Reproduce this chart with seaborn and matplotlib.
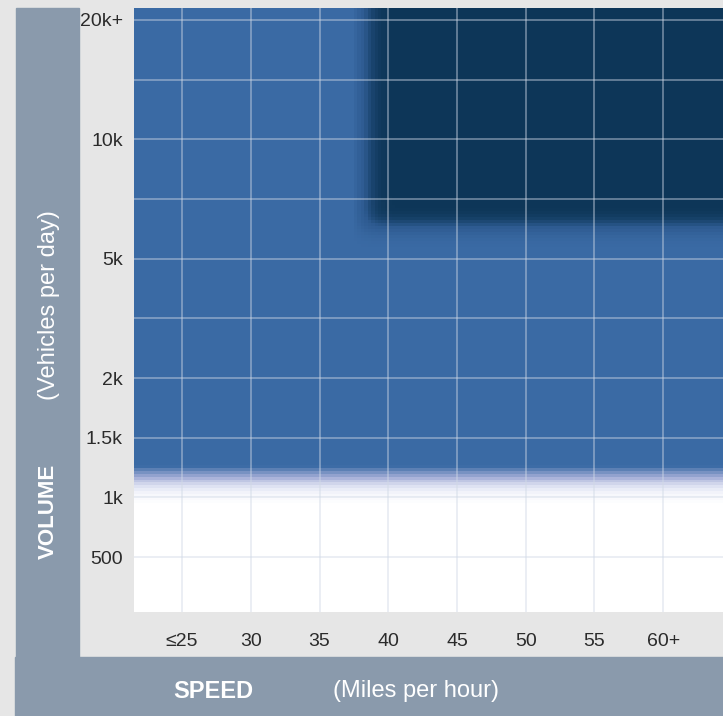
import numpy as np
import matplotlib
matplotlib.use('Agg')
import matplotlib.pyplot as plt
from matplotlib.colors import LinearSegmentedColormap
from matplotlib.patches import Rectangle
import seaborn as sns

# Categories
speed_labels = ['≤25', '30', '35', '40', '45', '50', '55', '60+']
volume_labels = ['500', '1k', '1.5k', '2k', '', '5k', '', '10k', '', '20k+']

# Zone level per (volume row, speed column); rows from low to high volume
# 0 = no treatment, 1 = blue zone, 2 = dark zone
zone_rows = [
    [0, 0, 0, 0, 0, 0, 0, 0],  # 500
    [0, 0, 0, 0, 0, 0, 0, 0],  # 1k
    [1, 1, 1, 1, 1, 1, 1, 1],  # 1.5k
    [1, 1, 1, 1, 1, 1, 1, 1],  # 2k
    [1, 1, 1, 1, 1, 1, 1, 1],
    [1, 1, 1, 1, 1, 1, 1, 1],  # 5k
    [1, 1, 1, 2, 2, 2, 2, 2],
    [1, 1, 1, 2, 2, 2, 2, 2],  # 10k
    [1, 1, 1, 2, 2, 2, 2, 2],
    [1, 1, 1, 2, 2, 2, 2, 2],  # 20k+
]

BG = '#e6e6e6'
BAR = '#8a9aac'
BLUE = '#3a6aa4'
DARK = '#0d3658'


def kernel(s, one_sided=False):
    r = max(int(4 * s), 1)
    x = np.arange(-r, r + 1)
    kern = np.exp(-x ** 2 / (2 * s ** 2))
    if one_sided:
        kern = kern * (x >= 0)
    return kern / kern.sum(), r


def blur(fine, sx, sy, k, one_sided_x=False):
    kx, rx = kernel(sx * k, one_sided=one_sided_x)
    ky, ry = kernel(sy * k)
    fp = np.pad(fine, ((0, 0), (rx, rx)), mode='edge')
    fp = np.apply_along_axis(lambda v: np.convolve(v, kx, mode='valid'), 1, fp)
    fp = np.pad(fp, ((ry, ry), (0, 0)), mode='edge')
    fp = np.apply_along_axis(lambda v: np.convolve(v, ky, mode='valid'), 0, fp)
    return fp


def soften(levels, k=20):
    # upsample each zone mask and soften its border, then stack the zones
    padded = np.pad(np.asarray(levels, dtype=float), 1, mode='edge')
    fine = np.kron(padded, np.ones((k, k)))
    blue_layer = blur((fine >= 1).astype(float), 0.1, 0.25, k)
    dark_layer = blur((fine >= 2).astype(float), 0.2, 0.15, k, one_sided_x=True)
    return blue_layer + dark_layer


def main():
    sns.set_theme(style='white')
    plt.rcParams['font.family'] = ['Liberation Sans', 'DejaVu Sans']

    k = 20
    n_rows = len(volume_labels)
    n_cols = len(speed_labels)
    field = soften(zone_rows, k=k)
    # heatmap draws row 0 at the top, so flip to put high volume on top
    field_df = field[::-1]

    x0 = -1.5                 # padded left edge in cell units
    ytop = n_rows - 0.5 + 1   # padded top edge in cell units

    def fx(u):
        return (u - x0) * k

    def fy(v):
        return (ytop - v) * k

    fig = plt.figure(figsize=(7.23, 7.16), dpi=100)
    fig.patch.set_facecolor(BG)
    W, H = 723, 716

    # side bars
    fig.patches.append(Rectangle((16 / W, (H - 657) / H), 63 / W, 649 / H,
                                 transform=fig.transFigure, color=BAR, zorder=0))
    fig.patches.append(Rectangle((15 / W, 0), (W - 15) / W, 59 / H,
                                 transform=fig.transFigure, color=BAR, zorder=0))

    ax = fig.add_axes([134 / W, (H - 612) / H, (W - 134) / W, 604 / H])
    cmap = LinearSegmentedColormap.from_list('zones', [
        (0.0, '#ffffff'),
        (0.025, '#eef0f9'),
        (0.125, '#a6afd8'),
        (0.275, BLUE),
        (0.5, BLUE),
        (0.8, '#2d5a90'),
        (1.0, DARK),
    ])
    sns.heatmap(field_df, ax=ax, cmap=cmap, vmin=0, vmax=2, cbar=False,
                xticklabels=False, yticklabels=False, rasterized=True)

    ax.set_xticks([fx(i) for i in range(n_cols)])
    ax.set_xticklabels(speed_labels)
    ax.set_yticks([fy(j) for j in range(n_rows)])
    ax.set_yticklabels(volume_labels)
    ax.set_xlim(fx(-0.7), fx(7.87))
    ax.set_ylim(fy(-0.92), fy(9.2))

    ax.set_axisbelow(False)
    ax.grid(True, color='#d0d9e6', alpha=0.55, linewidth=1.1)
    for sp in ax.spines.values():
        sp.set_visible(False)
    ax.tick_params(axis='both', length=0, labelsize=14, labelcolor='#2b2b2b')
    ax.tick_params(axis='x', pad=15)
    ax.tick_params(axis='y', pad=8)
    for lab in ax.get_yticklabels():
        lab.set_rotation(0)

    fig.text(213 / W, (H - 691) / H, 'SPEED', color='white', fontsize=17,
             fontweight='bold', ha='center', va='center')
    fig.text(333 / W, (H - 691) / H, '(Miles per hour)', color='white',
             fontsize=17, ha='left', va='center')
    fig.text(48 / W, (H - 511) / H, 'VOLUME', color='white', fontsize=16,
             fontweight='bold', rotation=90, ha='center', va='center')
    fig.text(49 / W, (H - 305) / H, '(Vehicles per day)', color='white',
             fontsize=17, rotation=90, ha='center', va='center')

    fig.savefig('out.png', dpi=100, facecolor=BG)


if __name__ == '__main__':
    main()
